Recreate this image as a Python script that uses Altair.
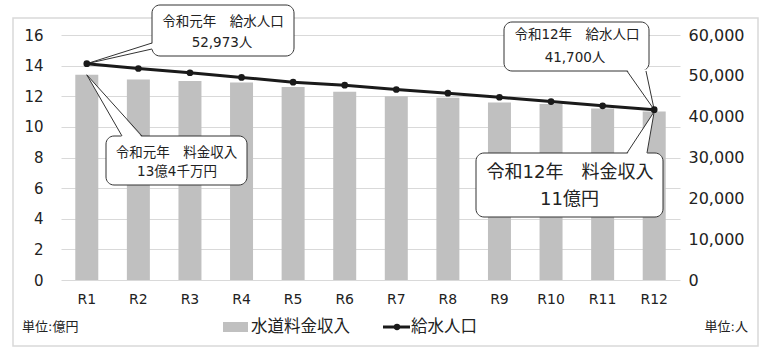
import altair as alt
import pandas as pd

# ---------------- data ----------------
years = ["R1", "R2", "R3", "R4", "R5", "R6", "R7", "R8", "R9", "R10", "R11", "R12"]
revenue = [13.4, 13.1, 13.0, 12.9, 12.6, 12.3, 12.0, 11.9, 11.6, 11.5, 11.2, 11.0]   # 億円
population = [52973, 51800, 50750, 49600, 48450, 47700, 46650, 45750, 44750, 43700, 42650, 41700]  # 人
left_ticks = [0, 2, 4, 6, 8, 10, 12, 14, 16]
right_ticks = [0, 10000, 20000, 30000, 40000, 50000, 60000]

callout_lines = [
    ["令和元年　給水人口", "52,973人"],
    ["令和元年　料金収入", "13億4千万円"],
    ["令和12年　給水人口", "41,700人"],
    ["令和12年　料金収入", "11億円"],
]
legend_labels = ["水道料金収入", "給水人口"]
unit_labels = ["単位:億円", "単位:人"]

# ---------------- layout ----------------
W, H = 619, 245
PAD = {"left": 61, "top": 35, "right": 89, "bottom": 72}
N = len(years)
LMAX, RMAX = 16, 60000

def xc(i):
    return (i + 0.5) * W / N

def yl(v):
    return H * (1 - v / LMAX)

def yr(v):
    return H * (1 - v / RMAX)

TXT = "#222222"
NUMFONT = "DejaVu Sans"
MIXFONT = "DejaVu Sans, Noto Sans CJK JP"
JPFONT = "Noto Sans CJK JP"
BAR = "#c0c0c0"
LINE = "#1a1a1a"
GRID = "#d9d9d9"

df = pd.DataFrame({"year": years, "rev": revenue, "pop": population})

xscale = alt.Scale(paddingInner=0, paddingOuter=0)

bars = alt.Chart(df).mark_bar(size=23, color=BAR).encode(
    x=alt.X("year:N", sort=years, scale=xscale,
            axis=alt.Axis(title=None, labelAngle=0, ticks=False, domain=False, grid=False,
                          labelFont=NUMFONT, labelFontSize=14, labelFontWeight="normal",
                          labelColor=TXT, labelPadding=12)),
    y=alt.Y("rev:Q", scale=alt.Scale(domain=[0, LMAX], nice=False),
            axis=alt.Axis(title=None, orient="left", values=left_ticks, ticks=False, domain=False,
                          grid=True, gridColor=GRID, gridWidth=1, labelFontWeight="normal",
                          labelFont=NUMFONT, labelFontSize=15, labelColor=TXT, labelPadding=18)),
)

line = alt.Chart(df).mark_line(color=LINE, strokeWidth=3).encode(
    x=alt.X("year:N", sort=years, scale=xscale, axis=None),
    y=alt.Y("pop:Q", scale=alt.Scale(domain=[0, RMAX], nice=False),
            axis=alt.Axis(title=None, orient="right", values=right_ticks, format=",d", ticks=False,
                          domain=False, grid=False, labelFont=NUMFONT, labelFontSize=16,
                          labelFontWeight="normal", labelColor=TXT, labelPadding=8)),
)

pts = alt.Chart(df).mark_point(filled=True, size=45, color=LINE, opacity=1).encode(
    x=alt.X("year:N", sort=years, scale=xscale, axis=None),
    y=alt.Y("pop:Q", scale=alt.Scale(domain=[0, RMAX], nice=False), axis=None),
)

# ---------------- callouts (pixel space, tips from data) ----------------
boxes = [(91, -30, 233, 21), (45, 101, 186, 150), (443, -13, 588, 36), (415, 118, 602, 182)]
tips = [(xc(0), yr(population[0])), (xc(0), yl(revenue[0])),
        (xc(N - 1), yr(population[-1])), (xc(N - 1), yl(revenue[-1]))]
bases = [((91, 8), (91, 14), (1.5, 0)),
         ((61, 101), (81, 101), (0, 1.5)),
         ((566, 36), (585, 36), (0, -1.5)),
         ((566, 118), (586, 118), (0, 1.5))]
text_pos = [((162, -13.3), (161, 7.7), 13.5),
            ((115.5, 117.7), (116, 136.7), 13.5),
            ((516, 0), (514, 23), 13.5),
            ((509, 138), (508.5, 165), 18)]


def tri_rows(p, gid):
    rows = []
    for i, (xv, yv) in enumerate(p):
        a, b = [q for j, q in enumerate(p) if j != i]
        lo, hi = min(a[0], b[0]), max(a[0], b[0])
        if a[0] != b[0] and lo <= xv <= hi:
            yo = a[1] + (b[1] - a[1]) * (xv - a[0]) / (b[0] - a[0])
        else:
            yo = yv
        rows.append({"g": gid, "x": xv, "y": min(yv, yo), "y2": max(yv, yo)})
    return sorted(rows, key=lambda r: r["x"])

box_rows, tri, edges, texts = [], [], [], []
for k in range(4):
    x1, y1, x2, y2 = boxes[k]
    box_rows.append({"x": x1, "y": y1, "x2": x2, "y2": y2})
    (b1, b2, d) = bases[k]
    t = tips[k]
    ib1 = (b1[0] + d[0], b1[1] + d[1])
    ib2 = (b2[0] + d[0], b2[1] + d[1])
    tri += tri_rows([t, ib1, ib2], k)
    edges.append({"x": t[0], "y": t[1], "x2": b1[0], "y2": b1[1]})
    edges.append({"x": t[0], "y": t[1], "x2": b2[0], "y2": b2[1]})
    (p1, p2, fs) = text_pos[k]
    texts.append({"t": callout_lines[k][0], "x": p1[0], "y": p1[1], "s": fs})
    texts.append({"t": callout_lines[k][1], "x": p2[0], "y": p2[1], "s": fs})

def px(f):
    return alt.X(f, scale=None, axis=None)

def py(f):
    return alt.Y(f, scale=None, axis=None)

box_layer = alt.Chart(pd.DataFrame(box_rows)).mark_rect(
    fill="white", stroke="#333333", strokeWidth=1, cornerRadius=8).encode(
    x=px("x:Q"), x2="x2:Q", y=py("y:Q"), y2="y2:Q")

tri_layer = alt.Chart(pd.DataFrame(tri)).mark_area(fill="white", opacity=1, interpolate="linear").encode(
    x=px("x:Q"), y=py("y:Q"), y2="y2:Q", detail="g:N")

edge_layer = alt.Chart(pd.DataFrame(edges)).mark_rule(color="#333333", strokeWidth=1).encode(
    x=px("x:Q"), x2="x2:Q", y=py("y:Q"), y2="y2:Q")

text_layer = alt.Chart(pd.DataFrame(texts)).mark_text(
    font=MIXFONT, color=TXT, align="center", baseline="middle").encode(
    x=px("x:Q"), y=py("y:Q"), text="t:N", size=alt.Size("s:Q", scale=None, legend=None))

# ---------------- legend / units / frame ----------------
frame = alt.Chart(pd.DataFrame([{"x": -48, "y": -17, "x2": 697, "y2": 311}])).mark_rect(
    fill=None, stroke=GRID, strokeWidth=1.5).encode(x=px("x:Q"), x2="x2:Q", y=py("y:Q"), y2="y2:Q")

leg_rect = alt.Chart(pd.DataFrame([{"x": 162, "y": 287, "x2": 187, "y2": 297}])).mark_rect(
    color=BAR).encode(x=px("x:Q"), x2="x2:Q", y=py("y:Q"), y2="y2:Q")
leg_line = alt.Chart(pd.DataFrame([{"x": 322, "y": 292, "x2": 349, "y2": 292}])).mark_rule(
    color=LINE, strokeWidth=3).encode(x=px("x:Q"), x2="x2:Q", y=py("y:Q"), y2="y2:Q")
leg_dot = alt.Chart(pd.DataFrame([{"x": 336, "y": 292}])).mark_point(
    filled=True, size=40, color=LINE, opacity=1).encode(x=px("x:Q"), y=py("y:Q"))
leg_text = alt.Chart(pd.DataFrame([
    {"t": legend_labels[0], "x": 190, "y": 292},
    {"t": legend_labels[1], "x": 350, "y": 292},
])).mark_text(font=JPFONT, fontSize=16.5, color=TXT, align="left", baseline="middle").encode(
    x=px("x:Q"), y=py("y:Q"), text="t:N")
unit_l = alt.Chart(pd.DataFrame([{"t": unit_labels[0], "x": -39, "y": 292}])).mark_text(
    font=MIXFONT, fontSize=13, color=TXT, align="left", baseline="middle").encode(
    x=px("x:Q"), y=py("y:Q"), text="t:N")
unit_r = alt.Chart(pd.DataFrame([{"t": unit_labels[1], "x": 687, "y": 292}])).mark_text(
    font=MIXFONT, fontSize=13, color=TXT, align="right", baseline="middle").encode(
    x=px("x:Q"), y=py("y:Q"), text="t:N")

chart = alt.layer(
    frame, bars, box_layer, tri_layer, edge_layer, text_layer, line, pts,
    leg_rect, leg_line, leg_dot, leg_text, unit_l, unit_r,
).resolve_scale(x="independent", y="independent").properties(
    width=W, height=H, padding=PAD, autosize=alt.AutoSizeParams(type="none"),
    background="white",
).configure_view(stroke=None)

chart.save("out.html", embed_options={"renderer": "svg", "actions": False})
